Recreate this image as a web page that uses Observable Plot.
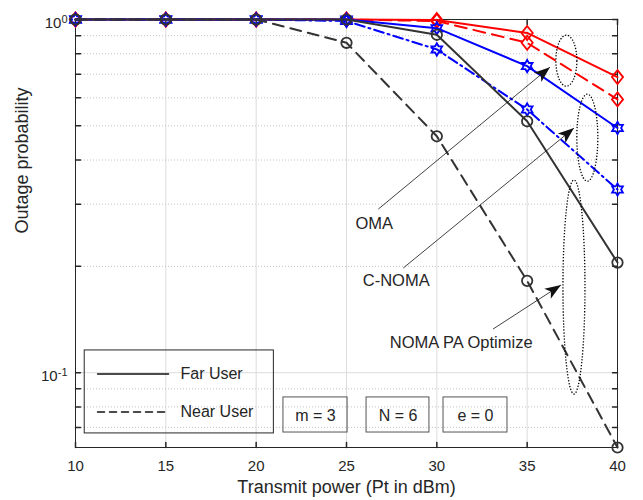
<!DOCTYPE html>
<html>
<head>
<meta charset="utf-8">
<script src="https://cdn.jsdelivr.net/npm/d3@7"></script>
<script src="https://cdn.jsdelivr.net/npm/@observablehq/plot@0.6"></script>
<style>
html,body{margin:0;padding:0;background:#fff;}
#chart{width:643px;height:500px;}
</style>
</head>
<body>
<div id="chart"></div>
<script>
// ---------------- data ----------------
const power = [10, 15, 20, 25, 30, 35, 40];
const farNOMA   = [1, 1, 1, 1, 0.905, 0.515, 0.205];
const nearNOMA  = [1, 1, 1, 0.859, 0.467, 0.182, 0.0614];
const farOMA    = [1, 1, 1, 1, 0.997, 0.916, 0.687];
const nearOMA   = [1, 1, 1, 1, 0.99, 0.859, 0.594];
const farCNOMA  = [1, 1, 1, 1, 0.945, 0.738, 0.493];
const nearCNOMA = [1, 1, 1, 0.99, 0.823, 0.556, 0.330];

const xTicks = [10, 15, 20, 25, 30, 35, 40];
const xGrid = [15, 20, 25, 30, 35];
const yMajorTicks = [0.1, 1];
const yMinorTicks = [0.07, 0.08, 0.09, 0.2, 0.3, 0.4, 0.5, 0.6, 0.7, 0.8, 0.9];
const yTickLabels = ["10^-1", "10^0"];

const xLabel = "Transmit power (Pt in dBm)";
const yLabel = "Outage probability";

const legendNames = ["Far User", "Near User"];
const legendSampleX = [11.22, 15.15];
const legendRowY = [0.0992, 0.0774];
const legendTextX = 15.81;
const legendBoxX = [10.51, 20.98];
const legendBoxY = [0.0673, 0.1156];

const paramLabels = ["m = 3", "N = 6", "e = 0"];
const paramBoxX1 = [21.51, 26.11, 30.37];
const paramBoxX2 = [25.06, 29.59, 33.91];
const paramBoxY = [0.0677, 0.0851];
const paramTextY = 0.0756;

const annoLabels = ["OMA", "C-NOMA", "NOMA PA Optimize"];
const annoTextX = [25.5, 25.9, 27.4];
const annoTextY = [0.264, 0.1817, 0.1216];
const arrowX1 = [26.76, 28.14, 33.11];
const arrowY1 = [0.2905, 0.1978, 0.1329];
const arrowX2 = [36.26, 37.59, 36.87];
const arrowY2 = [0.733, 0.4926, 0.1771];
const ellipseX = [37.17, 38.33, 37.59];
const ellipseY = [0.7646, 0.4629, 0.1748];

// ---------------- styles ----------------
const ellipseRx = [10.5, 10.5, 11];
const ellipseRy = [25.5, 43.5, 107];
const FONT = '"Liberation Sans", Arial, Helvetica, sans-serif';
const INK = "#262626";

const circleSym = {draw(c) { c.moveTo(5.2, 0); c.arc(0, 0, 5.2, 0, 2 * Math.PI); c.closePath(); }};
const diamondSym = {draw(c) { c.moveTo(0, -7); c.lineTo(5.6, 0); c.lineTo(0, 7); c.lineTo(-5.6, 0); c.closePath(); }};
const hexSym = {draw(c) {
  const R = 6.2, r = R / Math.sqrt(3);
  for (let k = 0; k < 12; k++) {
    const a = -Math.PI / 2 + k * Math.PI / 6, rr = k % 2 ? r : R;
    const px = rr * Math.cos(a), py = rr * Math.sin(a);
    if (k) c.lineTo(px, py); else c.moveTo(px, py);
  }
  c.closePath();
}};
const headSym = {draw(c) { c.moveTo(0, 0); c.lineTo(6, 16); c.lineTo(0, 12); c.lineTo(-6, 16); c.closePath(); }};
const ellipseSym = (rx, ry) => ({draw(c) {
  const k = 0.5523;
  c.moveTo(rx, 0);
  c.bezierCurveTo(rx, ry * k, rx * k, ry, 0, ry);
  c.bezierCurveTo(-rx * k, ry, -rx, ry * k, -rx, 0);
  c.bezierCurveTo(-rx, -ry * k, -rx * k, -ry, 0, -ry);
  c.bezierCurveTo(rx * k, -ry, rx, -ry * k, rx, 0);
  c.closePath();
}});
const tickShape = {draw(c, l) { c.moveTo(0, 0); c.lineTo(0, -l); }};

const series = [
  {values: farOMA,    color: "#ff0000", dash: null,        sym: diamondSym},
  {values: nearOMA,   color: "#ff0000", dash: "12,7",      sym: diamondSym},
  {values: farCNOMA,  color: "#0000ff", dash: null,        sym: hexSym},
  {values: nearCNOMA, color: "#0000ff", dash: "10,4,2,4",  sym: hexSym},
  {values: farNOMA,   color: "#333333", dash: null,        sym: circleSym},
  {values: nearNOMA,  color: "#333333", dash: "11,7",      sym: circleSym}
];
const pts = s => power.map((x, i) => ({x, y: s.values[i]}));

const opts = {
  width: 643, height: 500,
  marginTop: 19, marginBottom: 53, marginLeft: 75, marginRight: 26,
  x: {domain: [10, 40]},
  y: {type: "log", domain: [0.0614, 1], axis: null},
  style: {fontFamily: FONT, fontSize: "15px", color: INK, background: "#fff", overflow: "visible"}
};

// probe pass for pixel geometry of arrows
const probe = Plot.plot({...opts, marks: [Plot.line(pts(series[0]), {x: "x", y: "y"})]});
const SX = probe.scale("x"), SY = probe.scale("y");
const arrows = annoLabels.map((_, i) => {
  const dx = SX.apply(arrowX2[i]) - SX.apply(arrowX1[i]);
  const dy = SY.apply(arrowY2[i]) - SY.apply(arrowY1[i]);
  return {x1: arrowX1[i], y1: arrowY1[i], x2: arrowX2[i], y2: arrowY2[i], rot: Math.atan2(dx, -dy) * 180 / Math.PI};
});

const marks = [
  // grid
  Plot.ruleX(xGrid, {stroke: "#dcdcdc", strokeWidth: 1}),
  Plot.ruleY(yMinorTicks, {stroke: "#c4c4c4", strokeWidth: 1, strokeDasharray: "1,2"}),
  Plot.ruleY([0.1], {stroke: "#dcdcdc", strokeWidth: 1}),
  Plot.frame({stroke: INK, strokeWidth: 1}),
  // inward ticks
  Plot.vector(xTicks, {x: d => d, frameAnchor: "bottom", length: 5, anchor: "start", shape: tickShape, stroke: INK}),
  Plot.vector(xTicks, {x: d => d, frameAnchor: "top", length: 5, rotate: 180, anchor: "start", shape: tickShape, stroke: INK}),
  Plot.vector([...yMinorTicks, ...yMajorTicks], {y: d => d, frameAnchor: "left", length: 5, rotate: 90, anchor: "start", shape: tickShape, stroke: INK}),
  Plot.vector([...yMinorTicks, ...yMajorTicks], {y: d => d, frameAnchor: "right", length: 5, rotate: -90, anchor: "start", shape: tickShape, stroke: INK}),
  // axes labels
  Plot.axisX({ticks: xTicks, tickSize: 0, tickPadding: 13, fontSize: 15, label: null, tickFormat: d => String(d)}),
  Plot.text(yMajorTicks, {y: d => d, text: (d, i) => yTickLabels[i], frameAnchor: "left", dx: -8, dy: 4, textAnchor: "end", fontSize: 15, fill: INK}),
  Plot.text([xLabel], {frameAnchor: "bottom", dy: 45, fontSize: 18, fill: INK}),
  Plot.text([yLabel], {frameAnchor: "left", dx: -53, rotate: -90, fontSize: 18, fill: INK}),
];

// data series (line + markers together, black on top)
for (const s of series) {
  marks.push(Plot.line(pts(s), {x: "x", y: "y", stroke: s.color, strokeWidth: 2, strokeDasharray: s.dash}));
  marks.push(Plot.dot(pts(s), {x: "x", y: "y", stroke: s.color, fill: "none", strokeWidth: 1.8, r: 5, symbol: s.sym}));
}

// annotations
marks.push(
  Plot.link(arrows, {x1: "x1", y1: "y1", x2: "x2", y2: "y2", stroke: "#111", strokeWidth: 0.8}),
  Plot.dot(arrows, {x: "x2", y: "y2", rotate: "rot", symbol: headSym, fill: "#111", stroke: "none", r: 5}),
  Plot.text(annoLabels, {x: (d, i) => annoTextX[i], y: (d, i) => annoTextY[i], text: d => d, textAnchor: "start", fontSize: 16.5, fill: INK})
);
annoLabels.forEach((_, i) => {
  marks.push(Plot.dot([0], {x: () => ellipseX[i], y: () => ellipseY[i], r: 5, symbol: ellipseSym(ellipseRx[i], ellipseRy[i]), stroke: "#000", strokeWidth: 1.3, strokeDasharray: "1.3,1.7", fill: "none"}));
});

// legend
marks.push(
  Plot.rect([0], {x1: legendBoxX[0], x2: legendBoxX[1], y1: legendBoxY[0], y2: legendBoxY[1], stroke: INK, fill: "none", strokeWidth: 1}),
  Plot.line(legendSampleX.map(x => ({x, y: legendRowY[0]})), {x: "x", y: "y", stroke: "#111", strokeWidth: 1.5}),
  Plot.line(legendSampleX.map(x => ({x, y: legendRowY[1]})), {x: "x", y: "y", stroke: "#111", strokeWidth: 1.5, strokeDasharray: "7,5"}),
  Plot.text(legendNames, {x: legendTextX, y: (d, i) => legendRowY[i], text: d => d, textAnchor: "start", fontSize: 16, fill: INK})
);

// parameter boxes
marks.push(
  Plot.rect(paramLabels, {x1: (d, i) => paramBoxX1[i], x2: (d, i) => paramBoxX2[i], y1: paramBoxY[0], y2: paramBoxY[1], stroke: "#555", fill: "none", strokeWidth: 1}),
  Plot.text(paramLabels, {x: (d, i) => (paramBoxX1[i] + paramBoxX2[i]) / 2, y: paramTextY, text: d => d, fontSize: 16, fill: INK})
);

const chart = Plot.plot({...opts, marks});
document.getElementById("chart").append(chart);

// superscripts on y tick labels
chart.querySelectorAll("text").forEach(t => {
  if (!t.textContent.includes("^")) return;
  const [base, exp] = t.textContent.split("^");
  t.textContent = base;
  const ts = document.createElementNS("http://www.w3.org/2000/svg", "tspan");
  ts.setAttribute("dy", "-0.5em");
  ts.setAttribute("font-size", "11px");
  ts.textContent = exp;
  t.appendChild(ts);
});
</script>
</body>
</html>
